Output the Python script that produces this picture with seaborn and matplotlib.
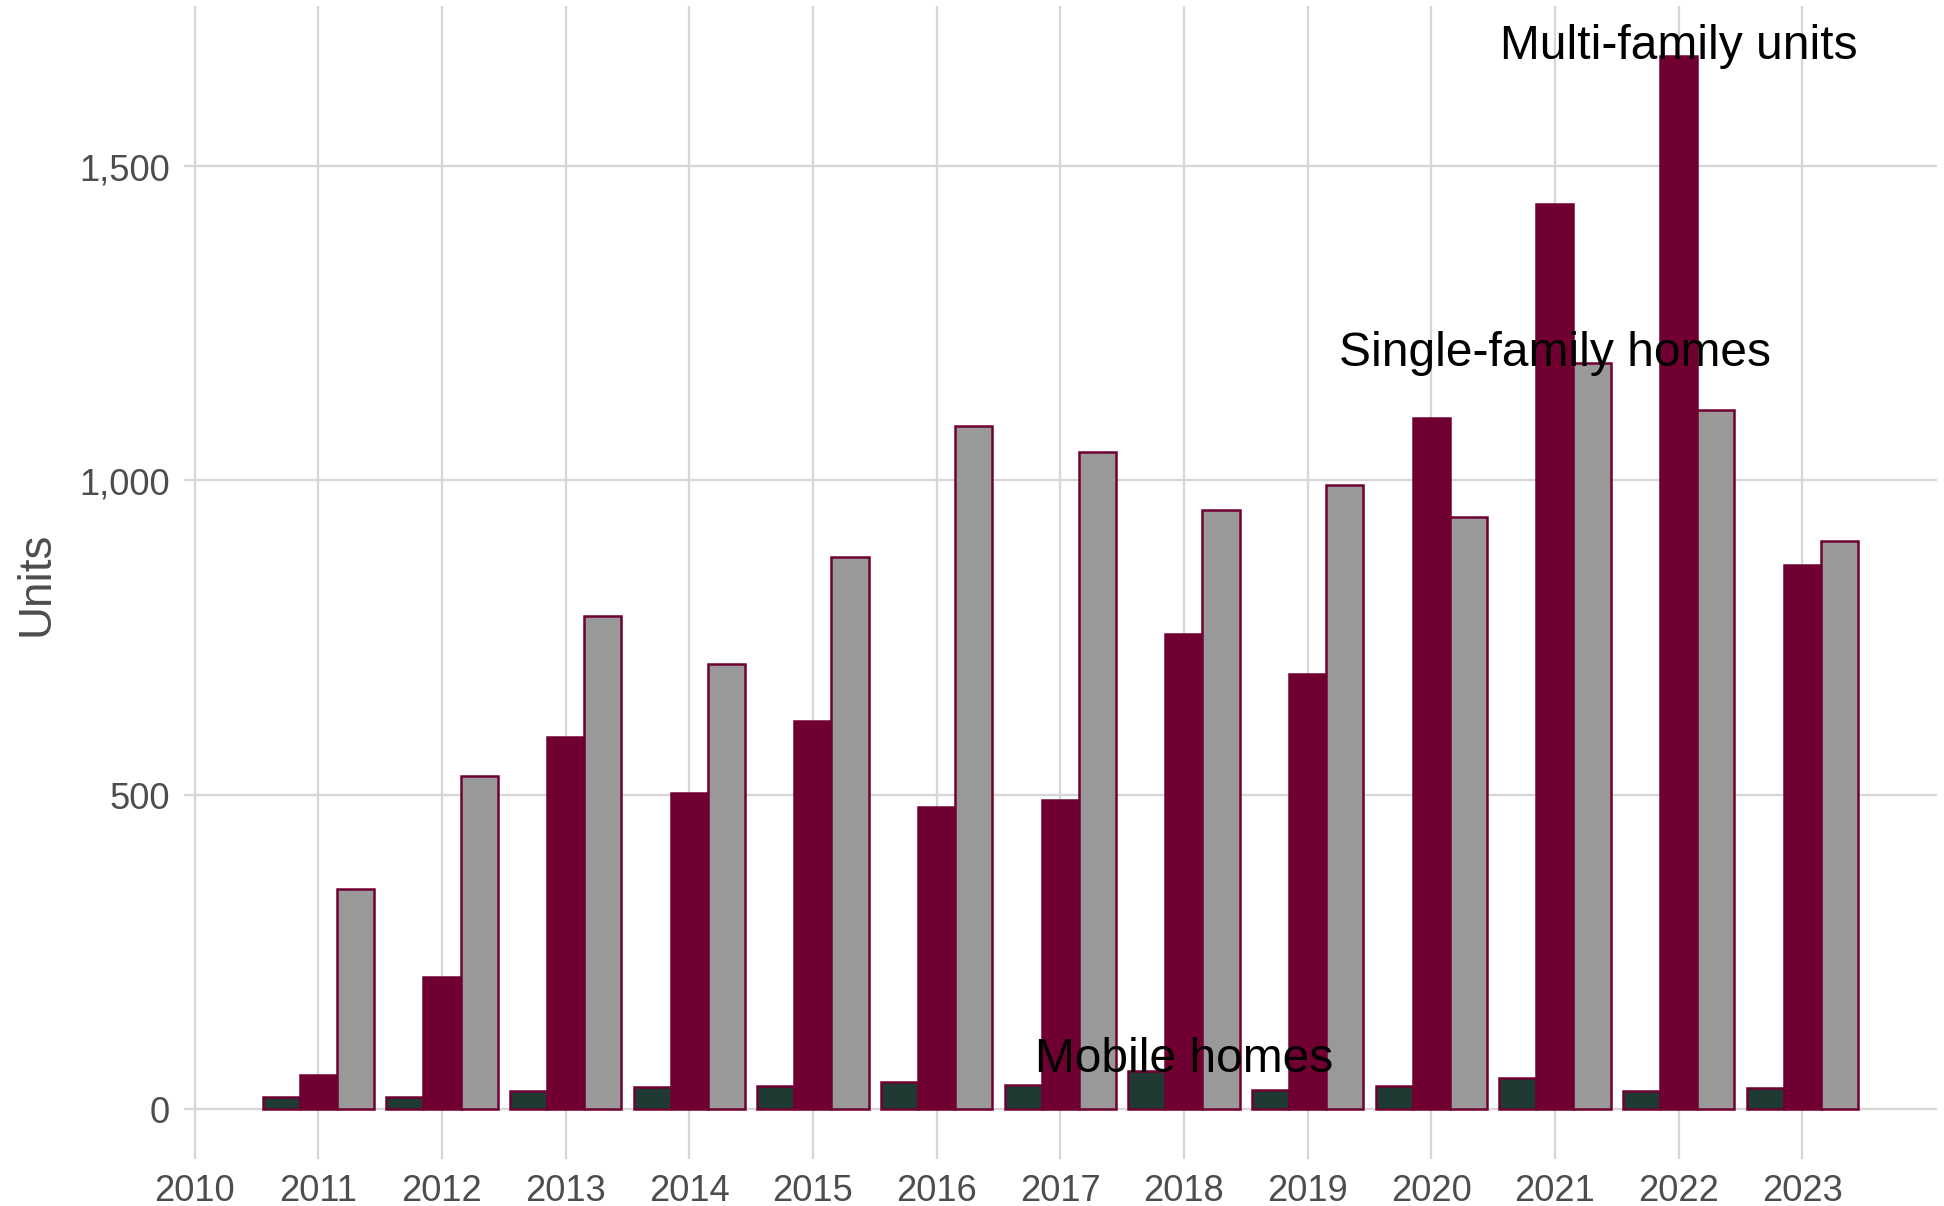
import matplotlib
matplotlib.use("Agg")
import matplotlib.pyplot as plt
import seaborn as sns
import pandas as pd

years = list(range(2011, 2024))
mobile_homes = [19, 18, 29, 35, 36, 42, 38, 60, 30, 37, 49, 29, 33]
multi_family = [53, 209, 592, 503, 617, 481, 491, 755, 692, 1099, 1440, 1675, 866]
single_family = [349, 529, 785, 708, 878, 1087, 1045, 953, 992, 941, 1187, 1112, 903]
series_names = ["Mobile homes", "Multi-family units", "Single-family homes"]
series_colors = ["#1f3a33", "#700032", "#999999"]
x_ticks = list(range(2010, 2024))
y_ticks = [0, 500, 1000, 1500]
y_ticklabels = ["0", "500", "1,000", "1,500"]

df = pd.DataFrame({
    "year": years * 3,
    "units": mobile_homes + multi_family + single_family,
    "type": [series_names[0]] * len(years) + [series_names[1]] * len(years) + [series_names[2]] * len(years),
})

sns.set_style("white")
plt.rcParams["font.family"] = ["Liberation Sans", "DejaVu Sans"]

fig = plt.figure(figsize=(6.48, 4.0233), dpi=300)
ax = fig.add_axes([0.0944, 0.0389, 0.902, 0.9553])

sns.barplot(data=df, x="year", y="units", hue="type", hue_order=series_names,
            palette=series_colors, saturation=1, native_scale=True, width=0.9, errorbar=None,
            edgecolor="#700032", linewidth=0.6, legend=False, ax=ax, zorder=3)

ax.set_xlim(2009.91, 2024.09)
ax.set_ylim(-80, 1755)
ax.set_xticks(x_ticks)
ax.set_xticklabels([str(x) for x in x_ticks])
ax.set_yticks(y_ticks)
ax.set_yticklabels(y_ticklabels)
ax.grid(True, color="#d6d6d6", linewidth=0.55, zorder=0)
ax.set_axisbelow(True)
for s in ax.spines.values():
    s.set_visible(False)
ax.tick_params(axis="both", length=0, labelsize=8.7, labelcolor="#4d4d4d")
ax.tick_params(axis="x", pad=3.3)
ax.tick_params(axis="y", pad=3.2)
ax.set_xlabel("")
ax.set_ylabel("Units", fontsize=11, color="#4d4d4d", labelpad=5)

ax.text(2022, 1692, "Multi-family units", ha="center", va="center", fontsize=11.5, color="black", zorder=5)
ax.text(2021, 1203, "Single-family homes", ha="center", va="center", fontsize=11.5, color="black", zorder=5)
ax.text(2018, 80, "Mobile homes", ha="center", va="center", fontsize=11.5, color="black", zorder=5)

fig.savefig("out.png", dpi=300)
